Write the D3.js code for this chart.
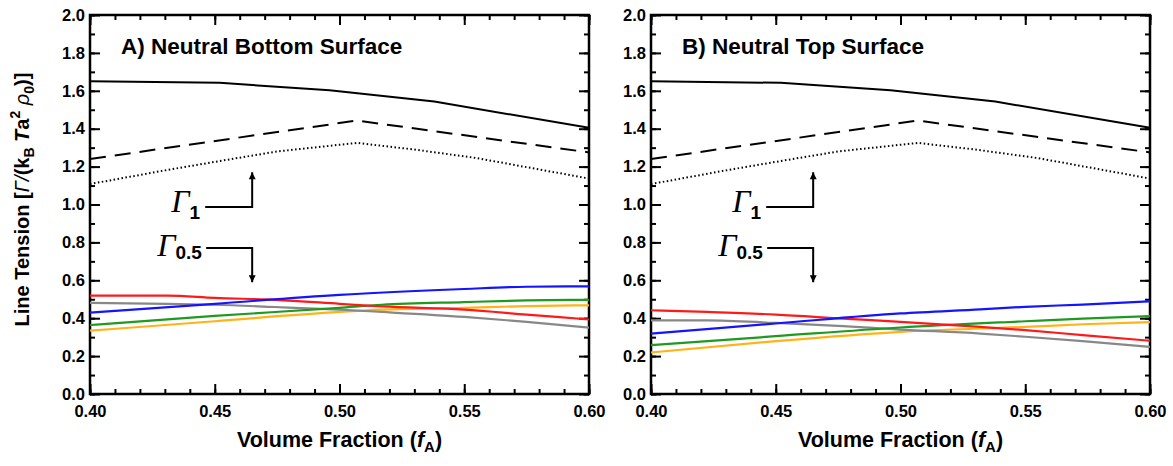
<!DOCTYPE html>
<html>
<head>
<meta charset="utf-8">
<script src="https://cdn.jsdelivr.net/npm/d3@7"></script>
<style>
  body { margin: 0; background: #fff; }
  text { font-family: "Liberation Sans", Arial, sans-serif; }
  .tick text { font-weight: bold; font-size: 16.5px; fill: #000; font-family: "Liberation Sans", Arial, sans-serif; }
  .domain { display: none; }
  .tick line { stroke: #000; stroke-width: 2px; }
</style>
</head>
<body>
<div id="chart"></div>
<script>
// top (black) curves, shared by both panels
let fSolid = [0.40, 0.452, 0.496, 0.538, 0.60];
let vSolid = [1.650, 1.642, 1.603, 1.543, 1.405];
let fDashed = [0.40, 0.507, 0.60];
let vDashed = [1.240, 1.443, 1.275];
let fDotted = [0.40, 0.43, 0.45, 0.475, 0.507, 0.53, 0.555, 0.58, 0.60];
let vDotted = [1.108, 1.180, 1.225, 1.280, 1.325, 1.290, 1.245, 1.185, 1.137];

// panel A, colored curves
let fA_blue = [0.40, 0.45, 0.50, 0.55, 0.575, 0.60];
let vA_blue = [0.429, 0.476, 0.523, 0.554, 0.566, 0.568];
let fA_red = [0.40, 0.431, 0.45, 0.474, 0.50, 0.517, 0.55, 0.575, 0.60];
let vA_red = [0.519, 0.519, 0.507, 0.497, 0.476, 0.462, 0.445, 0.419, 0.393];
let fA_gray = [0.40, 0.431, 0.45, 0.474, 0.50, 0.517, 0.55, 0.575, 0.60];
let vA_gray = [0.481, 0.476, 0.471, 0.459, 0.445, 0.433, 0.407, 0.381, 0.350];
let fA_green = [0.40, 0.45, 0.50, 0.517, 0.55, 0.575, 0.60];
let vA_green = [0.364, 0.412, 0.455, 0.471, 0.485, 0.494, 0.497];
let fA_orange = [0.40, 0.45, 0.50, 0.517, 0.55, 0.575, 0.60];
let vA_orange = [0.334, 0.384, 0.433, 0.445, 0.455, 0.464, 0.468];

// panel B, colored curves
let fB_blue = [0.40, 0.45, 0.50, 0.532, 0.55, 0.573, 0.60];
let vB_blue = [0.319, 0.372, 0.425, 0.447, 0.460, 0.472, 0.489];
let fB_red = [0.40, 0.4225, 0.45, 0.477, 0.50, 0.532, 0.55, 0.573, 0.60];
let vB_red = [0.442, 0.433, 0.419, 0.398, 0.381, 0.354, 0.337, 0.311, 0.281];
let fB_gray = [0.40, 0.4225, 0.45, 0.477, 0.50, 0.532, 0.55, 0.573, 0.60];
let vB_gray = [0.389, 0.389, 0.375, 0.358, 0.340, 0.319, 0.302, 0.279, 0.249];
let fB_green = [0.40, 0.45, 0.50, 0.55, 0.573, 0.60];
let vB_green = [0.258, 0.305, 0.351, 0.384, 0.398, 0.411];
let fB_orange = [0.40, 0.45, 0.50, 0.55, 0.573, 0.60];
let vB_orange = [0.219, 0.279, 0.328, 0.354, 0.368, 0.379];

let panelTitles = ["A) Neutral Bottom Surface", "B) Neutral Top Surface"];
let xTicks = [0.40, 0.45, 0.50, 0.55, 0.60];
let yTicks = [0.0, 0.2, 0.4, 0.6, 0.8, 1.0, 1.2, 1.4, 1.6, 1.8, 2.0];

// annotation anchors (data units)
let annoF = 0.465;
let anno1 = {line: 0.987, tip: 1.17};
let anno05 = {line: 0.77, tip: 0.59};

let svgWidth = 1173;
let svgHeight = 466;

let svg = d3.select("#chart")
    .append("svg")
    .attr("width", svgWidth)
    .attr("height", svgHeight);

svg.append("defs").selectAll("marker")
    .data(["arrowHead"])
    .enter()
    .append("marker")
    .attr("id", d => d)
    .attr("viewBox", "0 0 10 10")
    .attr("refX", 10).attr("refY", 5)
    .attr("markerWidth", 10).attr("markerHeight", 7)
    .attr("markerUnits", "userSpaceOnUse")
    .attr("orient", "auto")
    .append("path")
    .attr("d", "M0,0 L10,5 L0,10 Z")
    .attr("fill", "#000");

let panels = [
    {left: 90, right: 589, title: panelTitles[0], showYLabel: true,
     series: [
        {f: fA_orange, v: vA_orange, color: "#ffb319"},
        {f: fA_gray, v: vA_gray, color: "#888888"},
        {f: fA_green, v: vA_green, color: "#1f9a1f"},
        {f: fA_red, v: vA_red, color: "#ff1a1a"},
        {f: fA_blue, v: vA_blue, color: "#1414ff"}
     ]},
    {left: 651, right: 1150, title: panelTitles[1], showYLabel: false,
     series: [
        {f: fB_orange, v: vB_orange, color: "#ffb319"},
        {f: fB_gray, v: vB_gray, color: "#888888"},
        {f: fB_green, v: vB_green, color: "#1f9a1f"},
        {f: fB_red, v: vB_red, color: "#ff1a1a"},
        {f: fB_blue, v: vB_blue, color: "#1414ff"}
     ]}
];

let plotTop = 15, plotBottom = 394;

panels.forEach(p => {
    let x = d3.scaleLinear().domain([0.40, 0.60]).range([p.left, p.right]);
    let y = d3.scaleLinear().domain([0, 2.0]).range([plotBottom, plotTop]);

    let g = svg.append("g");

    //minor ticks
    let minorX = d3.range(0.40, 0.6001, 0.01);
    let minorY = d3.range(0, 2.0001, 0.1);
    g.append("g").attr("transform", `translate(0,${plotBottom})`)
        .call(d3.axisBottom(x).tickValues(minorX).tickSize(-5).tickFormat(""));
    g.append("g").attr("transform", `translate(0,${plotTop})`)
        .call(d3.axisTop(x).tickValues(minorX).tickSize(-5).tickFormat(""));
    g.append("g").attr("transform", `translate(${p.left},0)`)
        .call(d3.axisLeft(y).tickValues(minorY).tickSize(-5).tickFormat(""));
    g.append("g").attr("transform", `translate(${p.right},0)`)
        .call(d3.axisRight(y).tickValues(minorY).tickSize(-5).tickFormat(""));

    //major ticks
    g.append("g").attr("transform", `translate(0,${plotBottom})`)
        .call(d3.axisBottom(x).tickValues(xTicks).tickSize(-10).tickPadding(11).tickFormat(d3.format(".2f")));
    g.append("g").attr("transform", `translate(0,${plotTop})`)
        .call(d3.axisTop(x).tickValues(xTicks).tickSize(-10).tickFormat(""));
    g.append("g").attr("transform", `translate(${p.left},0)`)
        .call(d3.axisLeft(y).tickValues(yTicks).tickSize(-10).tickPadding(5).tickFormat(d3.format(".1f")));
    g.append("g").attr("transform", `translate(${p.right},0)`)
        .call(d3.axisRight(y).tickValues(yTicks).tickSize(-10).tickFormat(""));

    //frame
    g.append("rect")
        .attr("x", p.left).attr("y", plotTop)
        .attr("width", p.right - p.left).attr("height", plotBottom - plotTop)
        .attr("fill", "none").attr("stroke", "#000").attr("stroke-width", 2.5);

    let line = d3.line().x(d => x(d[0])).y(d => y(d[1]));
    let zip = (f, v) => f.map((d, i) => [d, v[i]]);

    //black curves
    g.append("path").datum(zip(fSolid, vSolid)).attr("d", line)
        .attr("fill", "none").attr("stroke", "#000").attr("stroke-width", 2);
    g.append("path").datum(zip(fDashed, vDashed)).attr("d", line)
        .attr("fill", "none").attr("stroke", "#000").attr("stroke-width", 2)
        .attr("stroke-dasharray", "16,9");
    g.append("path").datum(zip(fDotted, vDotted)).attr("d", line)
        .attr("fill", "none").attr("stroke", "#000").attr("stroke-width", 2)
        .attr("stroke-dasharray", "1.5,2.5");

    //colored curves
    let smooth = d3.line().x(d => x(d[0])).y(d => y(d[1])).curve(d3.curveMonotoneX);
    p.series.forEach(s => {
        g.append("path").datum(zip(s.f, s.v))
            .attr("d", smooth)
            .attr("fill", "none").attr("stroke", s.color).attr("stroke-width", 2.2);
    });

    //title
    g.append("text")
        .attr("x", p.left + 31).attr("y", 54)
        .attr("font-size", 22.5).attr("font-weight", "bold")
        .text(p.title);

    //annotations
    let ax = x(annoF);
    g.append("path")
        .attr("d", `M${ax - 47},${y(anno1.line)} H${ax} V${y(anno1.tip)}`)
        .attr("fill", "none").attr("stroke", "#000").attr("stroke-width", 2)
        .attr("marker-end", "url(#arrowHead)");
    g.append("path")
        .attr("d", `M${ax - 46},${y(anno05.line)} H${ax} V${y(anno05.tip)}`)
        .attr("fill", "none").attr("stroke", "#000").attr("stroke-width", 2)
        .attr("marker-end", "url(#arrowHead)");

    let g1 = g.append("text").attr("x", ax - 81).attr("y", y(anno1.line) + 5);
    g1.append("tspan").attr("font-family", "Liberation Serif, Times New Roman, serif")
        .attr("font-style", "italic").attr("font-size", 32).text("Γ");
    g1.append("tspan").attr("font-size", 19).attr("font-weight", "bold").attr("dy", 7).text("1");

    let g2 = g.append("text").attr("x", ax - 95).attr("y", y(anno05.line) + 8);
    g2.append("tspan").attr("font-family", "Liberation Serif, Times New Roman, serif")
        .attr("font-style", "italic").attr("font-size", 32).text("Γ");
    g2.append("tspan").attr("font-size", 19).attr("font-weight", "bold").attr("dy", 3).text("0.5");

    //x label
    let xl = g.append("text")
        .attr("x", (p.left + p.right) / 2).attr("y", 447)
        .attr("text-anchor", "middle")
        .attr("font-size", 21.5).attr("font-weight", "bold");
    xl.append("tspan").text("Volume Fraction (");
    xl.append("tspan").attr("font-style", "italic").text("f");
    xl.append("tspan").attr("font-size", 15).attr("dy", 5).text("A");
    xl.append("tspan").attr("dy", -5).text(")");

    //y label
    if (p.showYLabel) {
        let yl = g.append("text")
            .attr("transform", `translate(29,${(plotTop + plotBottom) / 2 - 5}) rotate(-90)`)
            .attr("text-anchor", "middle")
            .attr("font-size", 20).attr("font-weight", "bold");
        yl.append("tspan").text("Line Tension [");
        yl.append("tspan").attr("font-style", "italic").attr("font-weight", "normal").text("Γ/");
        yl.append("tspan").text("(k");
        yl.append("tspan").attr("font-size", 14).attr("dy", 5).text("B");
        yl.append("tspan").attr("font-style", "italic").attr("dy", -5).text(" T");
        yl.append("tspan").text("a");
        yl.append("tspan").attr("font-size", 14).attr("dy", -9).text("2");
        yl.append("tspan").attr("font-style", "italic").attr("font-weight", "normal").attr("dy", 9).text(" ρ");
        yl.append("tspan").attr("font-size", 14).attr("dy", 5).text("0");
        yl.append("tspan").attr("dy", -5).text(")]");
    }
});
</script>
</body>
</html>
